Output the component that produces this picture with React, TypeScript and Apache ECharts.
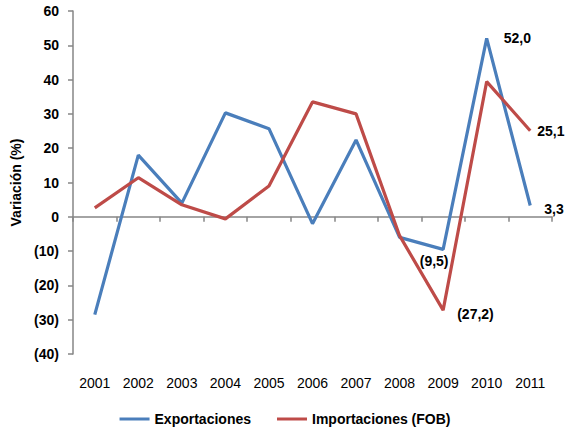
import React, { useEffect, useRef } from "react";
import * as echarts from "echarts";

const years = ["2001", "2002", "2003", "2004", "2005", "2006", "2007", "2008", "2009", "2010", "2011"];
const exportaciones = [-28.5, 18.0, 4.0, 30.3, 25.7, -2.0, 22.4, -6.0, -9.5, 52.0, 3.3];
const importaciones = [2.6, 11.4, 3.5, -0.6, 9.0, 33.5, 30.0, -5.5, -27.2, 39.4, 25.1];
const yTicks = { min: -40, max: 60, interval: 10 };

const FONT = "'Liberation Sans', Arial, sans-serif";

function fmt(v: number, dec: number) {
  const s = Math.abs(v).toFixed(dec).replace(".", ",");
  return v < 0 ? "(" + s + ")" : s;
}

const expLabels: Record<number, any> = {
  8: { position: "bottom", offset: [-9, 0], distance: 5 },
  9: { position: "right", offset: [12, 0], distance: 5 },
  10: { position: "right", offset: [9, 4], distance: 5 },
};
const impLabels: Record<number, any> = {
  8: { position: "right", offset: [8, 4], distance: 6 },
  10: { position: "right", offset: [1, 0], distance: 6 },
};

function buildData(values: number[], labels: Record<number, any>) {
  return values.map((v, i) => {
    const l = labels[i];
    if (!l) return v;
    return {
      value: v,
      label: {
        show: true,
        ...l,
        formatter: () => fmt(v, 1),
        fontFamily: FONT,
        fontWeight: "bold",
        fontSize: 14,
        color: "#000",
      },
    };
  });
}

export default function App() {
  const ref = useRef<HTMLDivElement>(null);
  useEffect(() => {
    if (!ref.current) return;
    const chart = echarts.init(ref.current, undefined, { renderer: "svg" });
    chart.setOption({
      animation: false,
      backgroundColor: "#fff",
      grid: { left: 73, right: 18, top: 11, bottom: 82, containLabel: false },
      legend: {
        bottom: 5,
        left: "center",
        itemWidth: 30,
        itemHeight: 3,
        itemGap: 26,
        icon: "rect",
        textStyle: { fontFamily: FONT, fontWeight: "bold", fontSize: 14, color: "#000" },
        data: ["Exportaciones", "Importaciones (FOB)"],
      },
      xAxis: [
        {
          type: "category",
          data: years,
          boundaryGap: true,
          axisLine: { onZero: true, lineStyle: { color: "#868686", width: 1.5 } },
          axisTick: { show: true, length: 5, lineStyle: { color: "#868686", width: 1.5 } },
          axisLabel: { show: false },
        },
        {
          type: "category",
          data: years,
          position: "bottom",
          boundaryGap: true,
          axisLine: { show: false, onZero: false },
          axisTick: { show: false },
          axisLabel: { interval: 0, margin: 22, fontFamily: FONT, fontSize: 14, color: "#000" },
        },
      ],
      yAxis: {
        type: "value",
        min: yTicks.min,
        max: yTicks.max,
        interval: yTicks.interval,
        name: "Variación (%)",
        nameLocation: "middle",
        nameGap: 50,
        nameTextStyle: { fontFamily: FONT, fontWeight: "bold", fontSize: 14, color: "#000" },
        axisLine: { show: true, lineStyle: { color: "#868686", width: 1.5 } },
        axisTick: { show: true, length: 5, lineStyle: { color: "#868686", width: 1.5 } },
        splitLine: { show: false },
        axisLabel: {
          margin: 14,
          fontFamily: FONT,
          fontWeight: "bold",
          fontSize: 14,
          color: "#000",
          formatter: (v: number) => fmt(v, 0),
        },
      },
      series: [
        {
          name: "Exportaciones",
          type: "line",
          xAxisIndex: 0,
          data: buildData(exportaciones, expLabels),
          showSymbol: true,
          symbol: "circle",
          symbolSize: 0.1,
          lineStyle: { color: "#4a7ebb", width: 3.2 },
          itemStyle: { color: "#4a7ebb" },
        },
        {
          name: "Importaciones (FOB)",
          type: "line",
          xAxisIndex: 0,
          data: buildData(importaciones, impLabels),
          showSymbol: true,
          symbol: "circle",
          symbolSize: 0.1,
          lineStyle: { color: "#be4b48", width: 3.2 },
          itemStyle: { color: "#be4b48" },
        },
      ],
    });
    return () => chart.dispose();
  }, []);
  return <div ref={ref} style={{ width: 570, height: 436, position: "absolute", left: 0, top: 0 }} />;
}
